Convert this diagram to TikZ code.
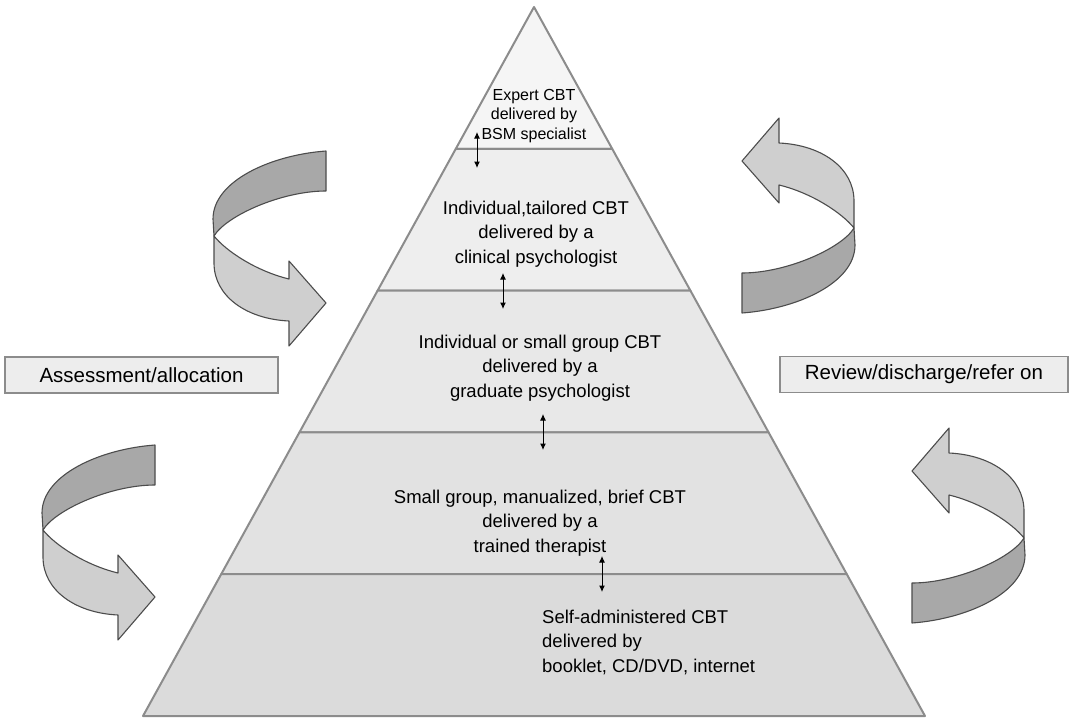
\documentclass[tikz,border=0pt]{standalone}
\usepackage{fontspec}
\setmainfont{Liberation Sans}
\usepackage{xcolor}
\colorlet{colEdge}{black!45}
\colorlet{colBand}{black!34}
\colorlet{colBandLight}{black!19}
\colorlet{colBox}{black!7}
\usepackage{tikz}
\usetikzlibrary{arrows.meta, calc}

\tikzset{
  layertext/.style={font=\fontsize{18.5}{24.5}\selectfont, align=center},
  sidebox/.style={draw=colEdge, line width=1.5pt, fill=colBox, minimum height=36pt,
    font=\fontsize{20.5}{24}\selectfont},
  updown/.style={{Latex[length=6.5pt,width=6pt]}-{Latex[length=6.5pt,width=6pt]}, line width=1pt},
  ribbon/.style={draw=black!70, line width=1.1pt, line join=round},
  turnarrow/.pic={
    % back of the band: tail round to the twist
    \filldraw[ribbon, fill=colBand] (0,0) .. controls (-55,4) and (-113,30) .. (-113,68)
      -- (-112,85) .. controls (-100,65) and (-45,40) .. (0,40) -- cycle;
    % front of the band: twist down to the head
    \filldraw[ribbon, fill=colBandLight] (-112,85) -- (-112,112)
      .. controls (-112,145) and (-80,168) .. (-37,170)
      -- (-37,195) -- (0,152) -- (-37,110) -- (-37,128)
      .. controls (-70,120) and (-100,100) .. (-112,85) -- cycle;
  }
}

\begin{document}
\begin{tikzpicture}[x=1pt, y=-1pt]
  \useasboundingbox (0,0) rectangle (1070,717);

  % pyramid, five equal bands
  \coordinate (apex) at (534,7);
  \coordinate (bl) at (143,716);
  \coordinate (br) at (925,716);
  \foreach \f/\g/\c in {0/0.2/4, 0.2/0.4/6.5, 0.4/0.6/9, 0.6/0.8/11.5, 0.8/1/14}
    \filldraw[draw=colEdge, line width=2pt, fill=black!\c, line join=round]
      ($(apex)!\f!(bl)$) -- ($(apex)!\g!(bl)$) -- ($(apex)!\g!(br)$) -- ($(apex)!\f!(br)$) -- cycle;

  \node[layertext, font=\fontsize{16}{19.5}\selectfont] (t1) at (534,116)
    {Expert CBT\\delivered by\\BSM specialist};
  \node[layertext] (t2) at (536,234) {Individual,tailored CBT\\delivered by a\\clinical psychologist};
  \node[layertext] (t3) at (540,368) {Individual or small group CBT\\delivered by a\\graduate psychologist};
  \node[layertext] (t4) at (540,523) {Small group, manualized, brief CBT\\delivered by a\\trained therapist};
  \node[layertext, align=left, anchor=west, inner sep=0pt] (t5) at (542,642)
    {Self-administered CBT\\delivered by\\booklet, CD/DVD, internet};

  % step up / step down between bands
  \coordinate (u1) at (477,132); \coordinate (d1) at (477,168);
  \coordinate (u2) at (503,273); \coordinate (d2) at (503,309);
  \coordinate (u3) at (543,414); \coordinate (d3) at (543,450);
  \coordinate (u4) at (602,556); \coordinate (d4) at (602,592);
  \foreach \i in {1,...,4}
    \draw[updown] (u\i) -- (d\i);

  % side labels
  \node[sidebox, minimum width=273pt] (assess) at (141.5,375) {Assessment/allocation};
  \node[sidebox, minimum width=288pt] (review) at (924,374.5) {Review/discharge/refer on};

  % turning arrows
  \pic at (326,151) {turnarrow};
  \pic at (155,445) {turnarrow};
  \pic[rotate=180] at (742,313) {turnarrow};
  \pic[rotate=180] at (912,623) {turnarrow};
\end{tikzpicture}
\end{document}
